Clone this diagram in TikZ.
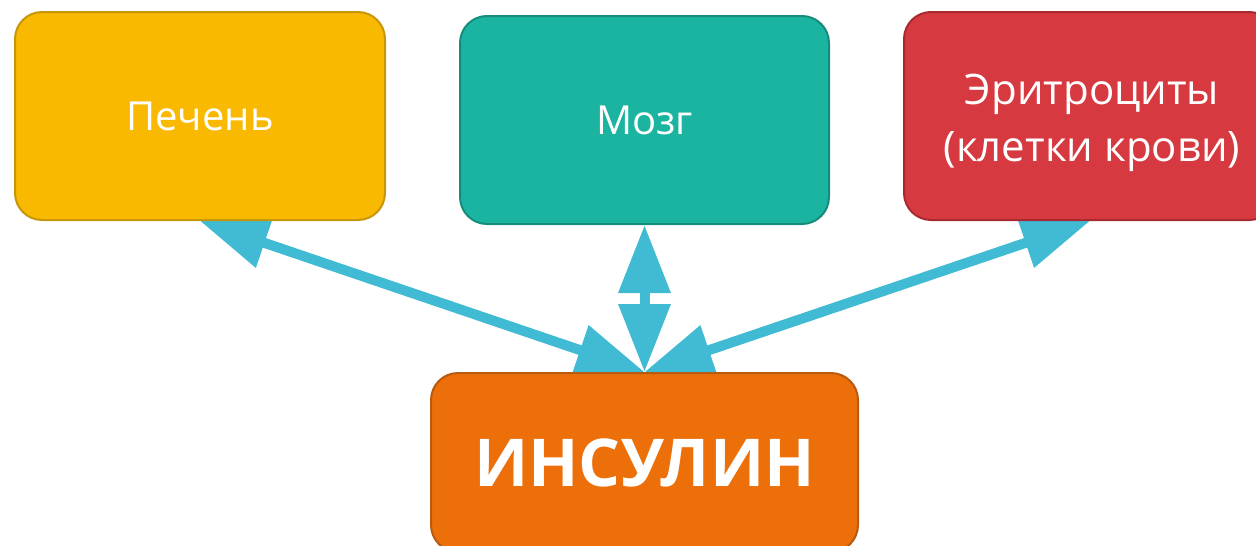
\documentclass[tikz,border=0pt]{standalone}
\usepackage{fontspec}
\setmainfont{Open Sans}
\usetikzlibrary{arrows.meta,backgrounds}
\definecolor{liverfill}{HTML}{F9B900}
\definecolor{liverdraw}{HTML}{C8960A}
\definecolor{brainfill}{HTML}{1BB4A0}
\definecolor{braindraw}{HTML}{168C7C}
\definecolor{bloodfill}{HTML}{D63A40}
\definecolor{blooddraw}{HTML}{A8292E}
\definecolor{insfill}{HTML}{EC6F0A}
\definecolor{insdraw}{HTML}{B85A10}
\definecolor{arrowcol}{HTML}{41BAD3}
\begin{document}
\begin{tikzpicture}[x=1pt,y=-1pt,
  box/.style={rounded corners=27pt, line width=2pt, text=white, inner sep=0pt, align=center},
  link/.style={draw=arrowcol, line width=10pt,
    {Triangle[length=68pt,width=50pt]}-{Triangle[length=68pt,width=50pt]}}]
\useasboundingbox (0,0) rectangle (1256,546);
\node[box, fill=liverfill, draw=liverdraw, minimum width=370pt, minimum height=208pt,
  font=\fontsize{40}{48}\selectfont] (liver) at (200,116) {\raisebox{-2pt}{Печень}};
\node[box, fill=brainfill, draw=braindraw, minimum width=369pt, minimum height=208pt,
  font=\fontsize{40}{48}\selectfont] (brain) at (644.5,120) {Мозг};
\node[box, fill=bloodfill, draw=blooddraw, minimum width=372pt, minimum height=208pt] (blood) at (1090,116) {};
\node[text=white, inner sep=0pt, align=center, font=\fontsize{42}{57}\selectfont] (bloodtext) at (1092,123) {Эритроциты\\(клетки крови)};
\node[box, fill=insfill, draw=insdraw, minimum width=427pt, minimum height=179pt,
  font=\fontsize{66}{80}\selectfont\bfseries] (ins) at (644.5,462.5) {ИНСУЛИН};
\begin{scope}[on background layer]
\draw[link] (liver.south) -- (ins.north);
\draw[link] (brain.south) -- (ins.north);
\draw[link] (blood.south) -- (ins.north);
\end{scope}
\end{tikzpicture}
\end{document}
